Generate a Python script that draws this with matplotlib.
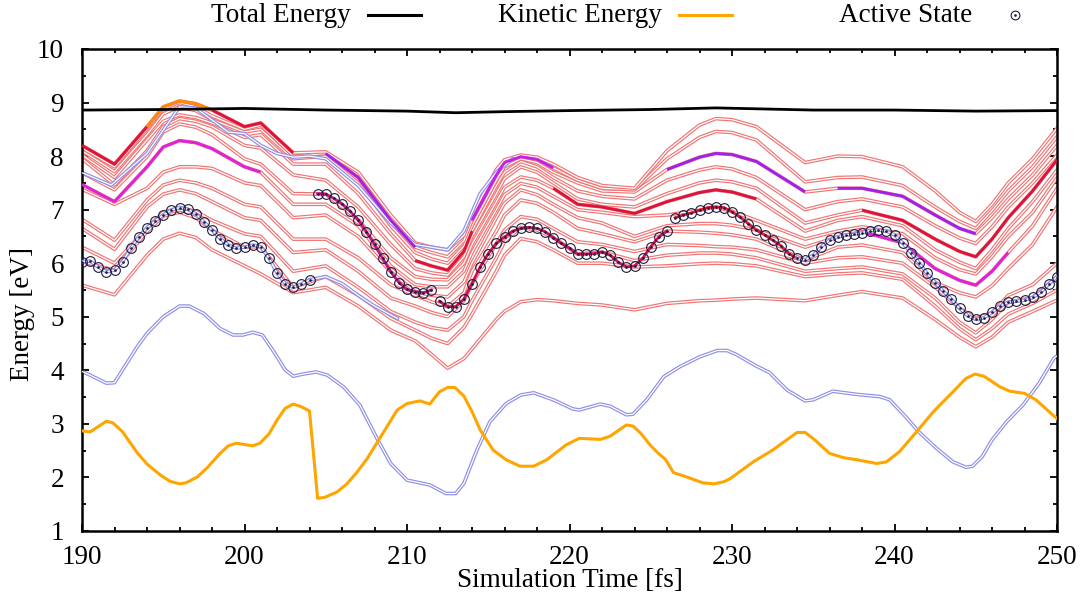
import numpy as np
import matplotlib
matplotlib.use('Agg')
from matplotlib import pyplot as plt
from matplotlib.lines import Line2D
from matplotlib.ticker import MultipleLocator

plt.rcParams['font.family'] = ['Liberation Serif', 'DejaVu Serif']
plt.rcParams['font.size'] = 19.5

# ---- data ----
tot_t = [190, 195, 200, 205, 210, 213, 216, 220, 225, 229, 235, 240, 245, 250]
tot_e = [8.86, 8.87, 8.89, 8.86, 8.84, 8.81, 8.83, 8.85, 8.87, 8.90, 8.86, 8.86, 8.84, 8.85]

ke_t = [190, 190.5, 191.5, 191.9, 192.5, 193.4, 194, 194.8, 195.4, 196, 196.4, 197.1, 197.7,
        198.5, 199, 199.5, 200.5, 200.95, 201.5, 202, 202.5, 203, 203.5, 204, 204.5, 204.95,
        205.7, 206.3, 206.9, 207.5, 208.2, 209.4, 210, 210.8, 211.4, 212, 212.5, 212.95, 213.5,
        214, 214.5, 215.3, 216.1, 216.95, 217.8, 218.6, 219.8, 220.6, 221.9, 222.5, 223.5,
        223.9, 224.4, 224.95, 225.5, 225.9, 226.4, 227.2, 228.2, 228.9, 229.5, 229.9, 231.3,
        232.5, 234, 234.5, 235.1, 236, 236.85, 237.7, 238.9, 239.5, 240.3, 241.35, 242.4,
        243.6, 244.4, 244.95, 245.5, 246.5, 247.1, 248, 248.7, 249.8, 250]
ke_e = [2.87, 2.85, 3.05, 3.02, 2.85, 2.46, 2.25, 2.05, 1.93, 1.88, 1.90, 2.01, 2.18,
        2.45, 2.59, 2.64, 2.59, 2.64, 2.81, 3.07, 3.29, 3.37, 3.32, 3.24, 1.61, 1.63,
        1.73, 1.88, 2.09, 2.33, 2.67, 3.26, 3.38, 3.43, 3.37, 3.60, 3.68, 3.68, 3.52,
        3.23, 2.89, 2.51, 2.33, 2.21, 2.21, 2.33, 2.61, 2.73, 2.71, 2.77, 2.98,
        2.96, 2.82, 2.61, 2.44, 2.34, 2.09, 2.01, 1.90, 1.88, 1.92, 1.98, 2.29,
        2.51, 2.84, 2.84, 2.70, 2.45, 2.37, 2.33, 2.26, 2.29, 2.48, 2.85, 3.23,
        3.60, 3.85, 3.93, 3.89, 3.69, 3.61, 3.57, 3.45, 3.15, 3.10]

# lowest (blue) state
low_t = [190, 190.5, 191.5, 192, 192.5, 193.4, 194, 195, 196, 196.6, 197.5, 198.5, 199.3,
         199.9, 200.5, 201.1, 201.8, 202.5, 203, 203.6, 204.4, 205.1, 206.1, 207.1, 208.2,
         209, 210, 211.4, 212.4, 213, 213.5, 214.3, 215.1, 216.1, 217, 217.8, 219, 220.2,
         220.6, 221.9, 222.5, 223.5, 223.9, 224.75, 225.8, 226.8, 228, 229.1, 229.7, 230.3,
         231.5, 232.3, 233.4, 234.5, 235, 236.2, 237.7, 239.1, 239.7, 240.7, 241.5, 242.6,
         243.6, 244.4, 244.8, 245.4, 246, 246.9, 247.9, 248.9, 249.8, 250]
low_e = [3.98, 3.91, 3.76, 3.77, 4.01, 4.44, 4.69, 5.00, 5.20, 5.20, 5.06, 4.78, 4.66,
         4.66, 4.71, 4.66, 4.35, 4.01, 3.89, 3.93, 3.97, 3.91, 3.69, 3.35, 2.70,
         2.26, 1.95, 1.86, 1.70, 1.70, 1.89, 2.51, 3.04, 3.38, 3.54, 3.58, 3.45, 3.28,
         3.26, 3.37, 3.33, 3.17, 3.18, 3.45, 3.88, 4.07, 4.25, 4.37, 4.37, 4.29,
         4.08, 3.96, 3.63, 3.43, 3.45, 3.61, 3.55, 3.51, 3.45, 3.13, 2.85, 2.54,
         2.29, 2.19, 2.21, 2.39, 2.70, 3.04, 3.35, 3.76, 4.22, 4.27]

# upper band blue lines
blue_band_t = [190, 191.8, 194, 196, 197, 199, 200, 201, 202, 203, 204, 205, 207, 209,
               210.5, 212.5, 213.5, 214.5, 215.5, 216.5]
blue_band_e = [7.69, 7.46, 8.05, 8.92, 8.90, 8.45, 8.42, 8.20, 8.05, 7.98, 8.00, 7.95, 7.45,
               6.75, 6.35, 6.25, 6.60, 7.30, 7.70, 7.95]
blue_mid_t = [204, 205, 206, 207, 208, 209.4]
blue_mid_e = [5.69, 5.75, 5.62, 5.40, 5.20, 4.97]

# excited states (adiabatic, bottom to top)
state_t = [190, 192, 194, 195, 196, 197, 198, 200, 201, 203, 205, 207, 209, 210.5, 211.5,
           212.5, 213.5, 214, 215.5, 216, 217, 218, 219, 220.5, 222, 224, 226, 228, 229, 230,
           231.5, 234.5, 236.5, 238, 240.5, 242.5, 244, 245, 246, 247, 248.5, 250]
state_01 = [5.59, 5.41, 6.15, 6.45, 6.56, 6.48, 6.25, 5.95, 5.80, 5.45, 5.55, 5.20, 4.75, 4.55,
            4.30, 4.04, 4.22, 4.40, 4.95, 5.10, 5.28, 5.32, 5.30, 5.25, 5.22, 5.13, 5.25, 5.30,
            5.31, 5.33, 5.35, 5.30, 5.40, 5.47, 5.35, 4.95, 4.62, 4.44, 4.62, 4.90, 5.10, 5.31]
state_02 = [6.03, 5.87, 6.59, 6.88, 6.95, 6.85, 6.62, 6.30, 6.31, 5.55, 5.75, 5.40, 4.97, 4.75,
            4.60, 4.50, 4.80, 5.05, 5.85, 6.15, 6.46, 6.40, 6.25, 6.00, 6.00, 5.93, 5.95, 5.99,
            6.00, 5.99, 5.95, 5.75, 5.80, 5.82, 5.70, 5.20, 4.78, 4.57, 4.78, 5.05, 5.25, 5.50]
state_03 = [6.30, 6.00, 6.66, 6.95, 7.04, 6.97, 6.80, 6.55, 6.50, 5.85, 5.95, 5.55, 5.10, 4.90,
            4.80, 4.75, 5.00, 5.30, 6.10, 6.40, 6.67, 6.62, 6.48, 6.17, 6.21, 6.05, 6.15, 6.19,
            6.19, 6.17, 6.10, 5.85, 5.90, 5.93, 5.80, 5.35, 4.90, 4.70, 4.95, 5.27, 5.36, 5.75]
state_04 = [6.65, 6.26, 7.05, 7.29, 7.37, 7.30, 7.15, 6.85, 6.80, 6.20, 6.25, 5.85, 5.35, 5.20,
            5.08, 5.00, 5.30, 5.62, 6.37, 6.62, 6.87, 6.82, 6.65, 6.40, 6.35, 6.22, 6.35, 6.33,
            6.31, 6.30, 6.25, 6.00, 6.10, 6.12, 6.00, 5.55, 5.16, 4.97, 5.08, 5.40, 5.60, 6.00]
state_05 = [6.82, 6.43, 7.18, 7.46, 7.55, 7.50, 7.40, 7.10, 7.05, 6.45, 6.45, 6.10, 5.60, 5.40,
            5.28, 5.19, 5.45, 5.85, 6.60, 6.90, 7.18, 7.12, 6.95, 6.65, 6.55, 6.40, 6.60, 6.58,
            6.56, 6.53, 6.45, 6.06, 6.30, 6.34, 6.20, 5.64, 5.45, 5.37, 5.58, 5.90, 6.35, 7.05]
state_06 = [7.38, 7.10, 7.40, 7.70, 7.80, 7.80, 7.77, 7.50, 7.45, 6.85, 6.90, 6.50, 5.84, 5.47,
            5.40, 5.37, 5.65, 6.00, 6.85, 7.12, 7.37, 7.28, 7.10, 6.85, 6.75, 6.50, 6.70, 6.74,
            6.74, 6.71, 6.62, 6.30, 6.49, 6.59, 6.38, 5.90, 5.68, 5.59, 5.85, 6.20, 6.70, 7.40]
state_07 = [7.47, 7.15, 7.80, 8.17, 8.29, 8.25, 8.14, 7.80, 7.70, 7.10, 7.10, 6.70, 5.95, 5.60,
            5.56, 5.56, 5.85, 6.20, 7.00, 7.28, 7.49, 7.42, 7.25, 7.00, 6.95, 6.87, 6.90, 6.99,
            7.05, 6.97, 6.80, 6.45, 6.60, 6.68, 6.55, 6.10, 5.88, 5.80, 6.12, 6.50, 6.95, 7.59]
state_08 = [7.69, 7.37, 7.99, 8.45, 8.60, 8.54, 8.40, 7.95, 7.85, 7.30, 7.29, 6.81, 6.10, 5.75,
            5.70, 5.69, 6.00, 6.35, 7.15, 7.42, 7.61, 7.55, 7.40, 7.10, 7.05, 6.93, 7.15, 7.32,
            7.37, 7.33, 7.20, 6.60, 6.80, 6.87, 6.70, 6.25, 6.02, 5.90, 6.25, 6.65, 7.15, 7.74]
state_09 = [7.95, 7.46, 8.10, 8.55, 8.70, 8.65, 8.55, 8.20, 8.15, 7.65, 7.55, 7.05, 6.35, 5.90,
            5.82, 5.78, 6.12, 6.50, 7.30, 7.58, 7.80, 7.70, 7.50, 7.20, 7.10, 7.05, 7.30, 7.50,
            7.55, 7.52, 7.40, 6.75, 6.90, 6.99, 6.80, 6.45, 6.22, 6.12, 6.45, 6.85, 7.35, 7.93]
state_10 = [8.02, 7.60, 8.30, 8.65, 8.77, 8.72, 8.62, 8.35, 8.40, 7.85, 7.85, 7.30, 6.55, 6.05,
            5.95, 5.87, 6.22, 6.60, 7.45, 7.70, 7.90, 7.80, 7.60, 7.35, 7.25, 7.20, 7.55, 7.74,
            7.80, 7.76, 7.60, 7.00, 7.15, 7.20, 7.05, 6.70, 6.47, 6.37, 6.68, 7.05, 7.50, 8.02]
state_11 = [8.10, 7.71, 8.40, 8.79, 8.92, 8.85, 8.68, 8.45, 8.50, 7.95, 8.00, 7.50, 6.70, 6.20,
            6.08, 6.00, 6.32, 6.70, 7.55, 7.80, 7.95, 7.88, 7.70, 7.50, 7.35, 7.33, 7.75, 7.98,
            8.05, 8.03, 7.90, 7.33, 7.40, 7.40, 7.25, 6.90, 6.65, 6.55, 6.85, 7.20, 7.65, 8.20]
state_12 = [8.15, 7.80, 8.51, 8.88, 9.00, 8.92, 8.75, 8.50, 8.58, 8.00, 8.05, 7.60, 6.80, 6.30,
            6.20, 6.12, 6.42, 6.80, 7.65, 7.88, 7.99, 7.94, 7.78, 7.55, 7.40, 7.37, 7.95, 8.35,
            8.46, 8.44, 8.30, 7.52, 7.60, 7.61, 7.45, 7.05, 6.78, 6.65, 6.98, 7.35, 7.80, 8.36]
state_13 = [8.20, 7.85, 8.55, 8.92, 9.03, 8.98, 8.86, 8.55, 8.62, 8.06, 8.08, 7.70, 6.90, 6.38,
            6.30, 6.25, 6.52, 6.90, 7.75, 7.93, 8.02, 7.98, 7.85, 7.60, 7.45, 7.40, 8.10, 8.58,
            8.70, 8.68, 8.55, 7.88, 8.00, 7.99, 7.80, 7.35, 6.95, 6.78, 7.10, 7.50, 7.95, 8.52]
states = [state_01, state_02, state_03, state_04, state_05, state_06, state_07,
          state_08, state_09, state_10, state_11, state_12, state_13]

# active state, every 0.5 fs
act_t = np.arange(190, 250.25, 0.5)
act_e = [6.03, 6.04, 5.93, 5.84, 5.87, 6.03, 6.28, 6.49, 6.66, 6.79, 6.90, 6.99, 7.04, 7.01,
         6.92, 6.77, 6.62, 6.46, 6.34, 6.28, 6.30, 6.34, 6.31, 6.10, 5.82, 5.62, 5.55, 5.61,
         5.69, 7.30, 7.29, 7.21, 7.11, 6.97, 6.81, 6.59, 6.35, 6.09, 5.84, 5.64, 5.51, 5.47,
         5.45, 5.50, 5.29, 5.19, 5.19, 5.33, 5.62, 5.93, 6.18, 6.37, 6.49, 6.60, 6.65, 6.67,
         6.65, 6.59, 6.48, 6.37, 6.28, 6.17, 6.17, 6.18, 6.21, 6.15, 6.02, 5.93, 5.95, 6.09,
         6.31, 6.49, 6.60, 6.85, 6.90, 6.94, 6.99, 7.04, 7.05, 7.04, 6.96, 6.86, 6.74, 6.62,
         6.53, 6.43, 6.33, 6.18, 6.09, 6.06, 6.15, 6.31, 6.43, 6.49, 6.53, 6.54, 6.57, 6.61,
         6.62, 6.60, 6.53, 6.38, 6.20, 6.01, 5.81, 5.64, 5.48, 5.33, 5.16, 5.02, 4.95, 4.98,
         5.08, 5.20, 5.27, 5.29, 5.31, 5.36, 5.46, 5.61, 5.75]
hop_times = [204.5, 212.0, 226.5]

# ---- styles ----
RED = '#f07474'
BLUE = '#8f8fe8'
CRIMSON = '#dc143c'
ORANGE = '#ffa500'
MAGENTA = '#dd22dd'
PURPLE = '#a020f0'

# (state number, start, end, colour) thick segments drawn over the states
overlays = [
    (13, 190, 194, CRIMSON), (13, 194, 198, '#ff8c00'), (13, 198, 203, CRIMSON),
    (7, 190, 201, MAGENTA), (12, 205, 210.5, PURPLE), (10, 210.5, 214, CRIMSON),
    (12, 214, 219, '#c020f0'), (8, 219, 231.5, CRIMSON), (11, 226, 234.5, PURPLE),
    (11, 236.5, 245, PURPLE), (9, 238, 250, CRIMSON), (6, 238, 247, MAGENTA),
]

fig = plt.figure(figsize=(10.83, 5.99), dpi=100)
ax = fig.add_axes([82 / 1083, 1 - 531 / 599, 975 / 1083, 482 / 599])


def double_line(x, y, edge, z=2):
    ax.plot(x, y, color=edge, lw=2.6, solid_joinstyle='round', zorder=z)
    ax.plot(x, y, color='white', lw=0.9, solid_joinstyle='round', zorder=z + 0.01)


st_t = np.array(state_t)
for i, s in enumerate(states):
    double_line(st_t, s, RED, z=2 + i * 0.02)

double_line(blue_band_t, blue_band_e, BLUE, z=2.5)
double_line(blue_mid_t, blue_mid_e, BLUE, z=2.5)
double_line(low_t, low_e, BLUE, z=2.5)

for num, t0, t1, col in overlays:
    m = (st_t >= t0) & (st_t <= t1)
    ax.plot(st_t[m], np.array(states[num - 1])[m], color=col, lw=2.0,
            solid_capstyle='butt', solid_joinstyle='round', zorder=3)

# active state: line segments split at hops, then circles
act_e = np.array(act_e)
cuts = [0] + [int(np.searchsorted(act_t, h)) for h in hop_times] + [len(act_t)]
seg_cols = [None, '#c8108a', '#d0105a', CRIMSON]
for k in range(len(cuts) - 1):
    a, b = cuts[k], cuts[k + 1]
    if seg_cols[k] is None:
        double_line(act_t[a:b], act_e[a:b], BLUE, z=3.2)
    elif k == 3:
        mid = int(np.searchsorted(act_t, 234.0))
        ax.plot(act_t[a:mid + 1], act_e[a:mid + 1], color=seg_cols[k], lw=2.0, zorder=3.2)
        double_line(act_t[mid:b], act_e[mid:b], BLUE, z=3.2)
    else:
        ax.plot(act_t[a:b], act_e[a:b], color=seg_cols[k], lw=2.0, zorder=3.2)

ax.plot(act_t, act_e, 'o', ms=7, mfc='none', mec='#1c1c3c', mew=0.8, zorder=4)
ax.plot(act_t, act_e, '.', ms=1.8, color='#1c1c3c', zorder=4)

ax.plot(ke_t, ke_e, color=ORANGE, lw=2.2, zorder=5)
ax.plot(tot_t, tot_e, color='black', lw=2.0, zorder=5)

ax.set_xlim(190, 250)
ax.set_ylim(1, 10)
ax.xaxis.set_major_locator(MultipleLocator(10))
ax.xaxis.set_minor_locator(MultipleLocator(2))
ax.yaxis.set_major_locator(MultipleLocator(1))
ax.yaxis.set_minor_locator(MultipleLocator(0.5))
ax.tick_params(which='both', direction='in', top=True, right=True, width=1.3)
ax.tick_params(which='major', length=5)
ax.tick_params(which='minor', length=3)
ax.tick_params(axis='x', pad=10)
ax.tick_params(axis='y', pad=13)
for sp in ax.spines.values():
    sp.set_linewidth(1.8)

ax.set_xlabel('Simulation Time [fs]')
ax.set_ylabel('Energy [eV]')
ax.xaxis.label.set_va('center')
ax.yaxis.label.set_va('center')
ax.xaxis.set_label_coords(0.5, -0.102)
ax.yaxis.set_label_coords(-0.0615, 0.45)

# key above the plot, text right-aligned before each sample
y_base = 1 - 22 / 599
y_mark = 1 - 15 / 599
key = [('Total Energy', 368, 'line', 'black'),
       ('Kinetic Energy', 679, 'line', ORANGE),
       ('Active State', 989, 'point', '#1c1c3c')]
for label, x0, kind, col in key:
    fig.text((x0 - 17) / 1083, y_base, label, ha='right', va='baseline')
    if kind == 'line':
        fig.add_artist(Line2D([x0 / 1083, (x0 + 53) / 1083], [y_mark, y_mark],
                              color=col, lw=2.2, transform=fig.transFigure))
    else:
        xc = (x0 + 26) / 1083
        fig.add_artist(Line2D([xc], [y_mark], marker='o', ms=6.3, mfc='none', mec=col,
                              mew=0.8, transform=fig.transFigure))
        fig.add_artist(Line2D([xc], [y_mark], marker='.', ms=1.8, color=col,
                              transform=fig.transFigure))

fig.savefig('out.png', dpi=100)
